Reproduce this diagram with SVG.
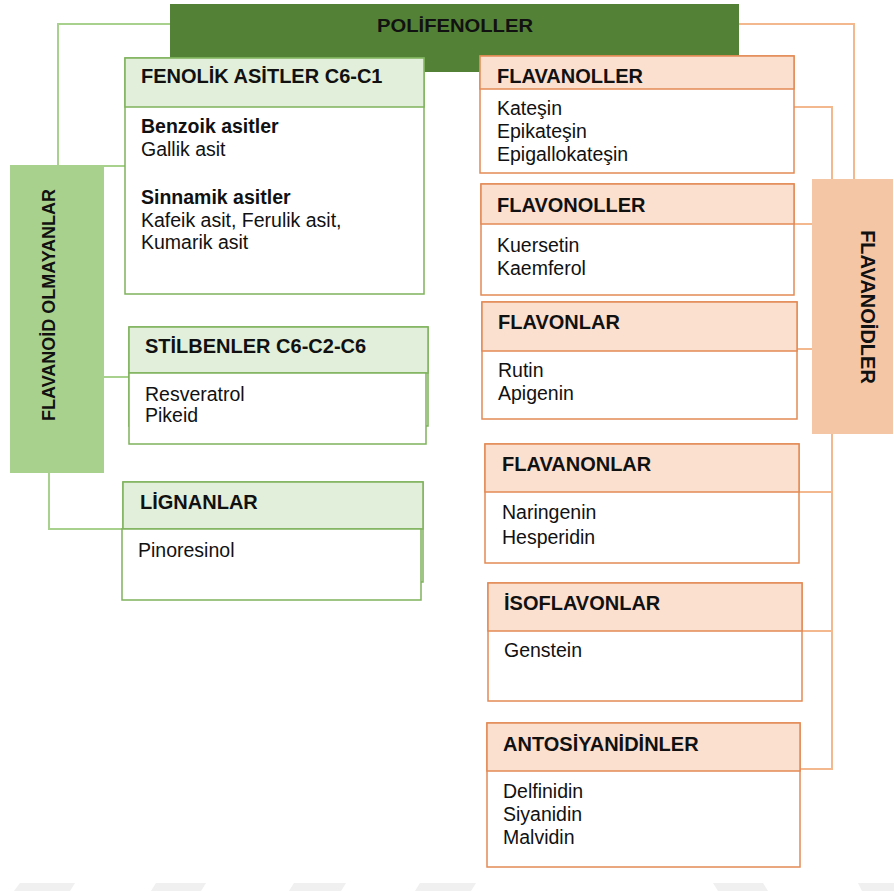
<svg xmlns="http://www.w3.org/2000/svg" width="894" height="891" viewBox="0 0 894 891">
<style>
text{font-family:"Liberation Sans",Arial,sans-serif;fill:#111;}
.h{font-size:20px;font-weight:bold;}
.b{font-size:19.5px;}
.bb{font-size:19.5px;font-weight:bold;}
.gs{stroke:#7fb25c;stroke-width:1.5;}
.os{stroke:#e38b55;stroke-width:1.5;}
.gh{fill:#e2efda;}
.oh{fill:#fbe0d0;}
.w{fill:#fff;}
.gl{fill:none;stroke:#a9d18e;stroke-width:2;}
.ol{fill:none;stroke:#f4b88e;stroke-width:2;}
</style>
<rect width="894" height="891" fill="#fff"/>
<g id="watermark" fill="#f0f0f0">
<polygon points="20,883 75,883 70,891 14,891"/>
<polygon points="156,883 206,883 201,891 151,891"/>
<polygon points="294,883 346,883 341,891 289,891"/>
<polygon points="420,883 476,883 471,891 415,891"/>
<polygon points="713,883 763,883 768,891 718,891"/>
<polygon points="858,883 894,883 894,891 862,891"/>
</g>
<g id="connectors">
<polyline class="gl" points="170,24 58,24 58,165"/>
<polyline class="gl" points="104,166 125,166"/>
<polyline class="gl" points="104,377 129,377"/>
<polyline class="gl" points="49,473 49,529 122,529"/>
<polyline class="ol" points="739,24 854,24 854,179"/>
<polyline class="ol" points="794,107 832,107 832,179"/>
<polyline class="ol" points="794,224 812,224"/>
<polyline class="ol" points="797,349 812,349"/>
<polyline class="ol" points="832,434 832,769 800,769"/>
<polyline class="ol" points="799,492 832,492"/>
<polyline class="ol" points="802,631 832,631"/>
</g>
<g id="polifenoller">
<rect x="170" y="4" width="569" height="68" fill="#538135"/>
<text x="455" y="32" text-anchor="middle" textLength="156" lengthAdjust="spacingAndGlyphs" style="font-size:19px;font-weight:bold">POLİFENOLLER</text>
</g>
<g id="flavanoid-olmayanlar">
<rect x="10" y="165" width="94" height="308" fill="#a9d18e"/>
<text transform="translate(55,305) rotate(-90)" text-anchor="middle" style="font-size:18px;font-weight:bold">FLAVANOİD OLMAYANLAR</text>
</g>
<g id="flavanoidler">
<rect x="812" y="179" width="81" height="255" fill="#f5c6a5"/>
<text transform="translate(861,307) rotate(90)" text-anchor="middle" class="h">FLAVANOİDLER</text>
</g>
<g id="fenolik-asitler">
<rect class="w gs" x="125" y="58" width="299" height="236"/>
<rect class="gh gs" x="125" y="58" width="299" height="49"/>
<text class="h" x="141" y="83">FENOLİK ASİTLER C6-C1</text>
<text class="bb" x="141" y="133">Benzoik asitler</text>
<text class="b" x="141" y="156">Gallik asit</text>
<text class="bb" x="141" y="204">Sinnamik asitler</text>
<text class="b" x="141" y="227">Kafeik asit, Ferulik asit,</text>
<text class="b" x="141" y="249">Kumarik asit</text>
</g>
<g id="stilbenler">
<rect class="gs" fill="none" x="129" y="327" width="299" height="99"/>
<rect class="gh gs" x="129" y="327" width="299" height="46"/>
<rect class="w gs" x="129" y="373" width="297" height="71"/>
<text class="h" x="145" y="353">STİLBENLER C6-C2-C6</text>
<text class="b" x="145" y="401">Resveratrol</text>
<text class="b" x="145" y="422">Pikeid</text>
</g>
<g id="lignanlar">
<rect class="gs" fill="none" x="123" y="482" width="300" height="100"/>
<rect class="gh gs" x="123" y="482" width="300" height="47"/>
<rect class="w gs" x="122" y="529" width="299" height="71"/>
<text class="h" x="140" y="509">LİGNANLAR</text>
<text class="b" x="138" y="557">Pinoresinol</text>
</g>
<g id="flavanoller">
<rect class="w os" x="480" y="56" width="314" height="117"/>
<rect class="oh os" x="480" y="56" width="314" height="33"/>
<text class="h" x="497" y="83">FLAVANOLLER</text>
<text class="b" x="497" y="115">Kateşin</text>
<text class="b" x="497" y="138">Epikateşin</text>
<text class="b" x="497" y="161">Epigallokateşin</text>
</g>
<g id="flavonoller">
<rect class="w os" x="481" y="184" width="313" height="111"/>
<rect class="oh os" x="481" y="184" width="313" height="40"/>
<text class="h" x="497" y="212">FLAVONOLLER</text>
<text class="b" x="497" y="252">Kuersetin</text>
<text class="b" x="497" y="275">Kaemferol</text>
</g>
<g id="flavonlar">
<rect class="w os" x="482" y="302" width="315" height="117"/>
<rect class="oh os" x="482" y="302" width="315" height="49"/>
<text class="h" x="498" y="329">FLAVONLAR</text>
<text class="b" x="498" y="377">Rutin</text>
<text class="b" x="498" y="400">Apigenin</text>
</g>
<g id="flavanonlar">
<rect class="w os" x="485" y="444" width="314" height="119"/>
<rect class="oh os" x="485" y="444" width="314" height="48"/>
<text class="h" x="502" y="471">FLAVANONLAR</text>
<text class="b" x="502" y="519">Naringenin</text>
<text class="b" x="502" y="544">Hesperidin</text>
</g>
<g id="isoflavonlar">
<rect class="w os" x="488" y="583" width="314" height="118"/>
<rect class="oh os" x="488" y="583" width="314" height="48"/>
<text class="h" x="504" y="610">İSOFLAVONLAR</text>
<text class="b" x="504" y="657">Genstein</text>
</g>
<g id="antosiyanidinler">
<rect class="w os" x="487" y="723" width="313" height="144"/>
<rect class="oh os" x="487" y="723" width="313" height="48"/>
<text class="h" x="503" y="751">ANTOSİYANİDİNLER</text>
<text class="b" x="503" y="798">Delfinidin</text>
<text class="b" x="503" y="821">Siyanidin</text>
<text class="b" x="503" y="844">Malvidin</text>
</g>
</svg>
